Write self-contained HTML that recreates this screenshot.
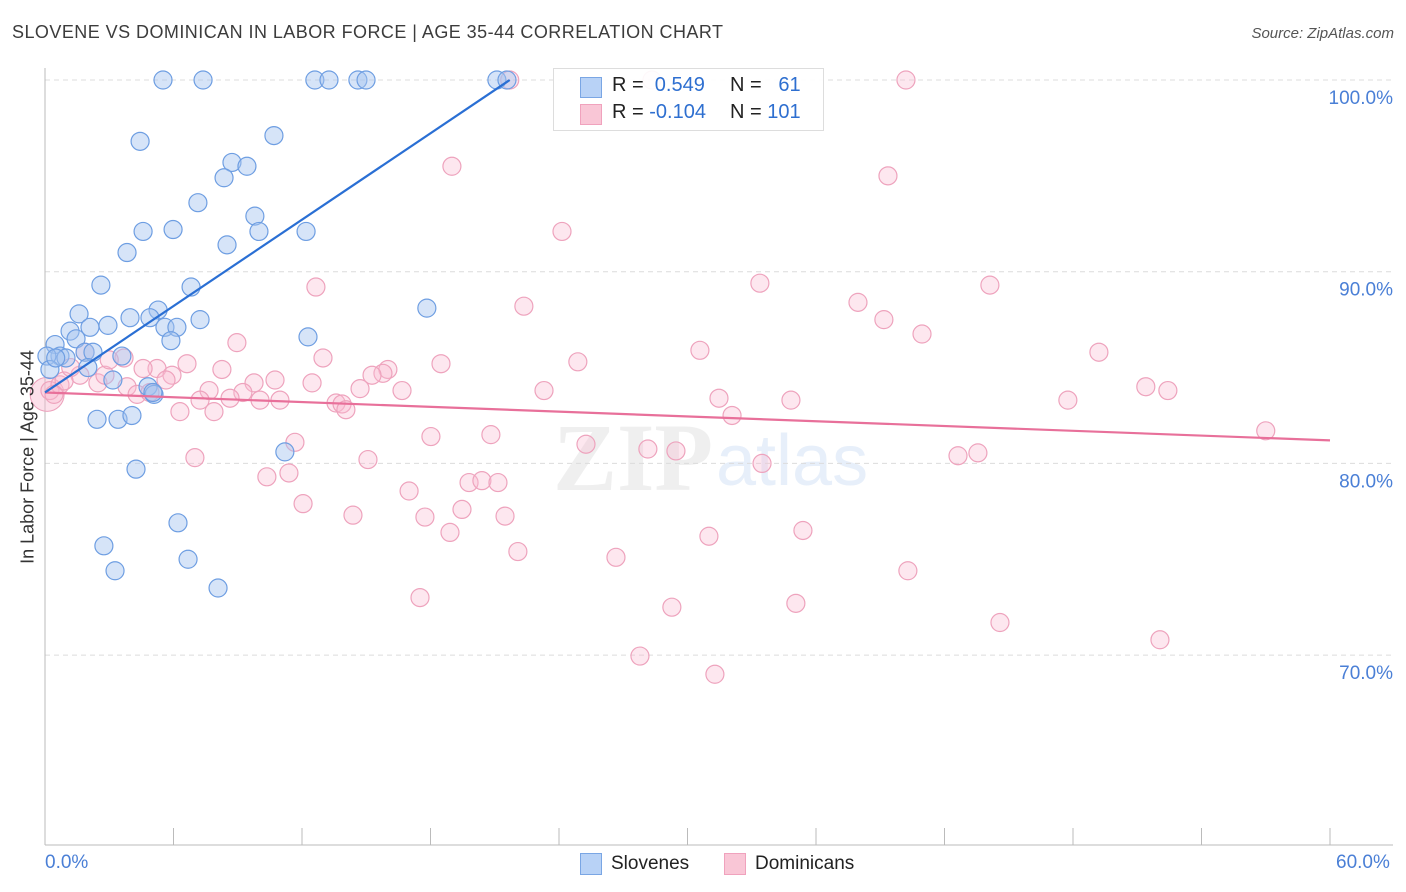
<!DOCTYPE html>
<html><head><meta charset="utf-8">
<style>
body{margin:0;background:#fff;font-family:"Liberation Sans",sans-serif;}
#wrap{position:relative;width:1406px;height:892px;overflow:hidden;}
.t{position:absolute;white-space:nowrap;}
</style></head>
<body>
<div id="wrap">
<div class="t" style="left:12px;top:22px;font-size:18px;color:#3c3c3c;letter-spacing:0.45px">SLOVENE VS DOMINICAN IN LABOR FORCE | AGE 35-44 CORRELATION CHART</div>
<div class="t" style="right:12px;top:25px;font-size:15px;color:#555;font-style:italic">Source: ZipAtlas.com</div>
<div class="t" style="left:553px;top:402px;font-size:96px;color:rgba(190,190,190,0.25);font-family:'Liberation Serif',serif;font-weight:bold">ZIP</div>
<div class="t" style="left:716px;top:420px;font-size:72px;color:rgba(160,190,235,0.25)">atlas</div>
<svg id="chart" width="1406" height="892" style="position:absolute;left:0;top:0"></svg>
<div class="t" style="left:553px;top:68px;width:269px;height:61px;border:1px solid #ddd;background:rgba(255,255,255,0.92);font-size:20px;color:#222">
  <div style="position:absolute;left:26px;top:8px;width:20px;height:19px;background:#b8d2f6;border:1px solid #7aa6e4"></div>
  <div class="t" style="left:58px;top:5px">R = <span style="color:#2e6fd0">&nbsp;0.549</span></div>
  <div class="t" style="left:176px;top:5px">N = <span style="color:#2e6fd0">&nbsp;&nbsp;61</span></div>
  <div style="position:absolute;left:26px;top:35px;width:20px;height:19px;background:#f9c6d6;border:1px solid #f0a2bd"></div>
  <div class="t" style="left:58px;top:32px">R = <span style="color:#2e6fd0">-0.104</span></div>
  <div class="t" style="left:176px;top:32px">N = <span style="color:#2e6fd0">101</span></div>
</div>
<div class="t" style="left:28px;top:457px;font-size:18px;color:#333;transform:translate(-50%,-50%) rotate(-90deg)">In Labor Force | Age 35-44</div>
<div class="t" style="left:45px;top:852px;font-size:19px;color:#4a7fd6">0.0%</div>
<div class="t" style="left:1336px;top:852px;font-size:19px;color:#4a7fd6">60.0%</div>
<div style="position:absolute;left:580px;top:853px;width:20px;height:20px;background:#b8d2f6;border:1px solid #7aa6e4"></div>
<div class="t" style="left:611px;top:853px;font-size:19px;color:#222">Slovenes</div>
<div style="position:absolute;left:724px;top:853px;width:20px;height:20px;background:#f9c6d6;border:1px solid #f0a2bd"></div>
<div class="t" style="left:755px;top:853px;font-size:19px;color:#222">Dominicans</div>
</div>
<script>
const yTicks=[70,80,90,100];
const yTickLabels=["70.0%","80.0%","90.0%","100.0%"];
const blueX=[5.51,7.38,12.6,13.26,14.61,14.99,21.1,21.57,4.44,10.69,8.73,9.43,8.36,7.14,9.8,4.58,5.98,9.99,12.19,8.5,3.83,2.61,6.82,17.83,5.28,3.97,4.9,1.59,7.24,2.94,5.6,6.16,2.1,1.17,1.45,12.28,5.88,0.47,0.7,1.87,0.09,0.98,2.24,3.59,2.0,3.17,4.81,5.09,2.43,3.41,4.06,4.25,11.2,6.21,2.75,6.68,3.27,8.08,0.23,5.04,0.5];
const blueY=[100,100,100,100,100,100,100,100,96.8,97.1,95.7,95.5,94.9,93.6,92.9,92.1,92.2,92.1,92.1,91.4,91.0,89.3,89.2,88.1,88.0,87.6,87.6,87.8,87.5,87.2,87.1,87.1,87.1,86.9,86.5,86.6,86.4,86.2,85.6,85.8,85.6,85.5,85.8,85.6,85.0,84.35,84.0,83.6,82.3,82.3,82.5,79.7,80.6,76.9,75.7,75.0,74.4,73.5,84.9,83.7,85.5];
const pinkX=[21.7,28.34,40.2,19.0,39.36,24.14,12.65,33.38,44.12,22.36,37.96,39.17,40.95,8.96,30.58,49.21,1.87,3.69,6.63,18.49,24.88,12.98,16.01,5.23,4.58,5.93,8.26,10.74,12.47,9.76,15.78,15.27,1.63,5.65,14.71,16.67,23.3,7.66,9.24,51.4,52.43,2.47,3.83,4.3,7.24,8.64,10.04,10.97,13.59,13.87,14.05,31.47,34.83,47.76,6.3,7.89,32.08,11.67,18.02,20.82,25.26,28.15,29.46,33.48,42.63,43.56,57.0,7.0,15.08,10.36,11.39,19.8,20.4,21.15,17.0,12.05,19.47,14.38,17.74,21.48,18.91,22.08,31.0,35.39,26.66,40.29,17.51,29.27,35.06,44.59,52.06,27.78,31.28,0.23,0.7,0.89,2.8,4.9,0.42,1.2,3.0];
const pinkY=[100,100,100,95.5,95.0,92.1,89.2,89.4,89.3,88.2,88.4,87.5,86.75,86.3,85.9,85.8,85.8,85.5,85.2,85.2,85.3,85.5,84.9,84.95,84.95,84.6,84.9,84.35,84.2,84.2,84.7,84.6,84.6,84.35,83.9,83.8,83.8,83.8,83.7,84.0,83.8,84.2,84.0,83.6,83.3,83.4,83.3,83.3,83.15,83.1,82.8,83.4,83.3,83.3,82.7,82.7,82.5,81.1,81.4,81.5,81.0,80.75,80.65,80.0,80.4,80.55,81.7,80.3,80.2,79.3,79.5,79.0,79.1,79.0,78.56,77.9,77.6,77.3,77.2,77.25,76.4,75.4,76.2,76.5,75.1,74.4,73.0,72.5,72.7,71.7,70.8,69.95,69.0,83.8,84.1,84.3,84.6,83.7,83.6,85.0,85.4];
const blueLine=[0,83.7,21.7,100];
const pinkLine=[0,83.7,60,81.2];

const NS="http://www.w3.org/2000/svg";
const svg=document.getElementById('chart');
function xS(v){return 45+v/60*1285;}
function yS(v){return 80+(100-v)*19.17;}
function mk(t,a){const e=document.createElementNS(NS,t);for(const k in a)e.setAttribute(k,a[k]);svg.appendChild(e);return e;}
yTicks.forEach((t,i)=>{
  const g=mk('line',{x1:45,x2:1393,y1:yS(t),y2:yS(t),stroke:'#dcdcdc','stroke-dasharray':'5,4','stroke-width':1});
  
  
  const tx=mk('text',{x:1393,y:yS(t)+24,'text-anchor':'end','font-size':19,fill:'#4a7fd6','font-family':'Liberation Sans, sans-serif'});
  tx.textContent=yTickLabels[i];
  
  
});
const ax=mk('line',{x1:45,x2:45,y1:68,y2:845,stroke:'#bbb','stroke-width':1});


const bx=mk('line',{x1:45,x2:1393,y1:845,y2:845,stroke:'#bbb','stroke-width':1});


for(let i=0;i<=10;i++){
  const tk=mk('line',{x1:xS(i*6),x2:xS(i*6),y1:828,y2:845,stroke:'#bbb','stroke-width':1});
  
  
}
const bg=mk('circle',{cx:xS(0.1),cy:yS(83.6),r:17,fill:'rgba(248,186,208,0.45)',stroke:'#eca0bb','stroke-width':1});


pinkX.forEach((x,i)=>{
  const c=mk('circle',{cx:xS(x),cy:yS(pinkY[i]),r:9,fill:'rgba(248,186,208,0.35)',stroke:'#eea3bd','stroke-width':1.2});
  
  
});
blueX.forEach((x,i)=>{
  const c=mk('circle',{cx:xS(x),cy:yS(blueY[i]),r:9,fill:'rgba(164,196,240,0.45)',stroke:'#6e9ee2','stroke-width':1.2});
  
  
});
const pl=mk('line',{x1:xS(pinkLine[0]),y1:yS(pinkLine[1]),x2:xS(pinkLine[2]),y2:yS(pinkLine[3]),stroke:'#e8709a','stroke-width':2.2});


const bl=mk('line',{x1:xS(blueLine[0]),y1:yS(blueLine[1]),x2:xS(blueLine[2]),y2:yS(blueLine[3]),stroke:'#2a6fd4','stroke-width':2.2});


</script>
</body></html>
